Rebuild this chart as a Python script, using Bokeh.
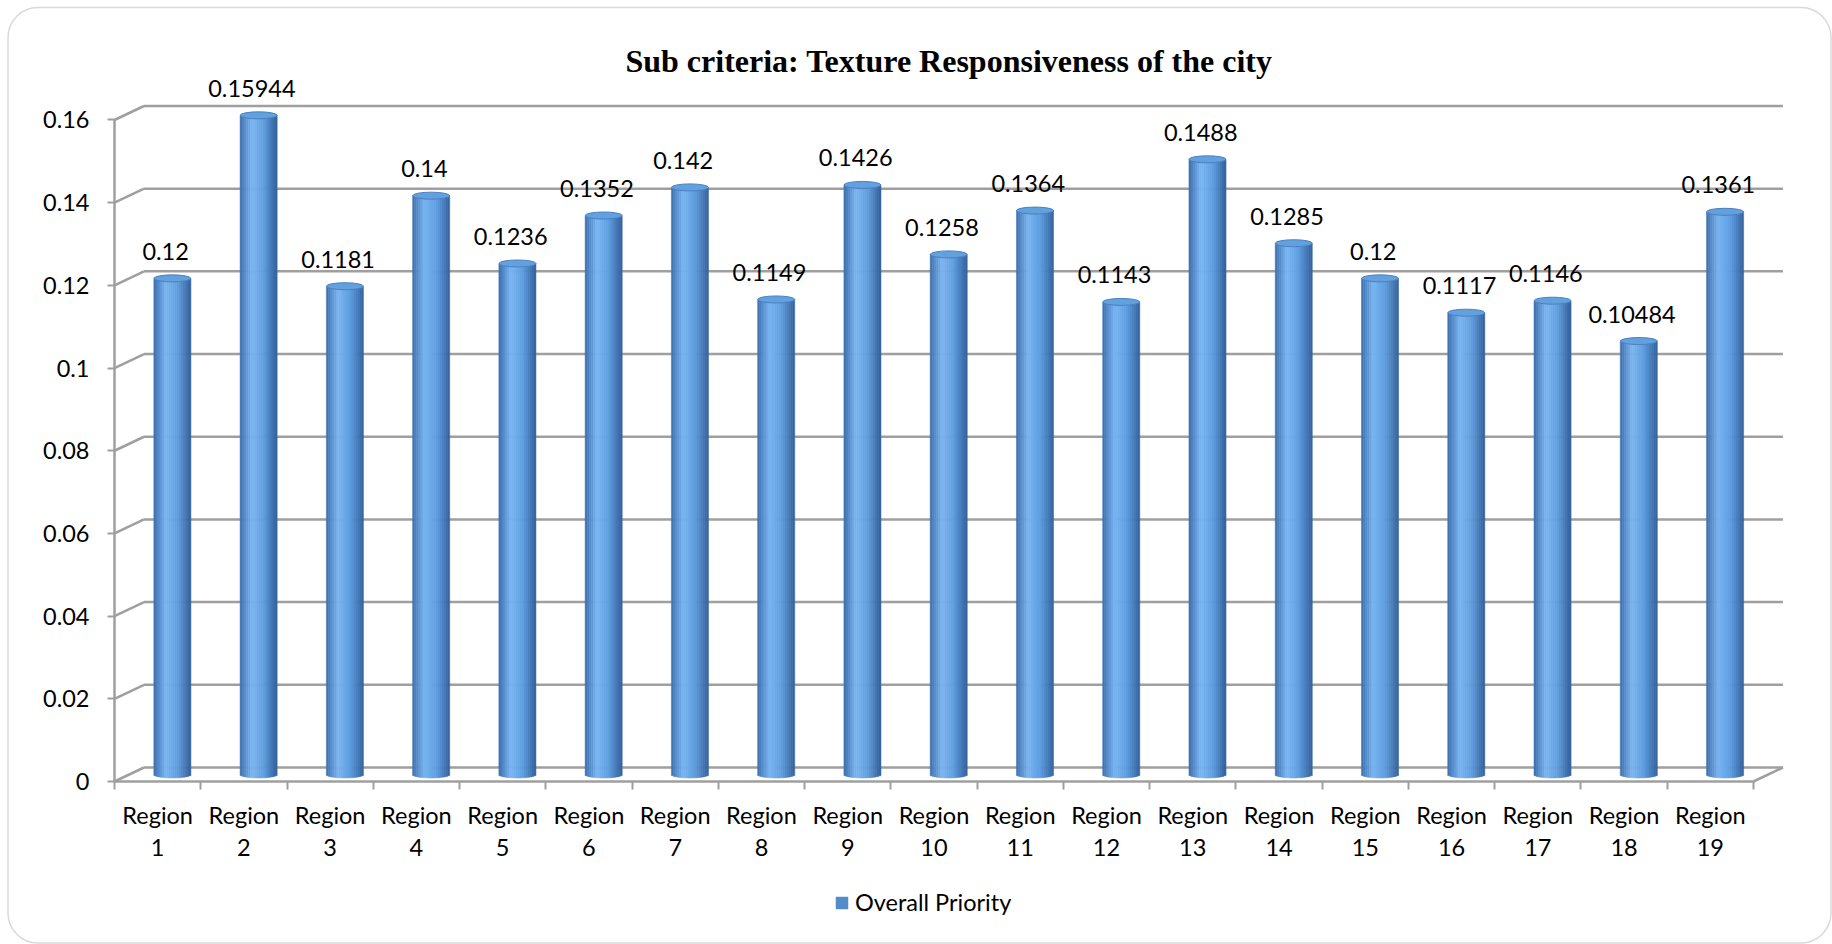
import math

from bokeh.core.properties import value
from bokeh.embed import file_html
from bokeh.models import (BoxAnnotation, FixedTicker, Label, Legend, LegendItem,
                          LinearAxis, Range1d)
from bokeh.plotting import figure
from bokeh.resources import INLINE

# ---- data -------------------------------------------------------------
categories = ["Region 1", "Region 2", "Region 3", "Region 4", "Region 5",
              "Region 6", "Region 7", "Region 8", "Region 9", "Region 10",
              "Region 11", "Region 12", "Region 13", "Region 14", "Region 15",
              "Region 16", "Region 17", "Region 18", "Region 19"]
overall_priority = [0.12, 0.15944, 0.1181, 0.14, 0.1236, 0.1352, 0.142, 0.1149,
                    0.1426, 0.1258, 0.1364, 0.1143, 0.1488, 0.1285, 0.12, 0.1117,
                    0.1146, 0.10484, 0.1361]
y_ticks = [0, 0.02, 0.04, 0.06, 0.08, 0.1, 0.12, 0.14, 0.16]
y_tick_labels = ["0", "0.02", "0.04", "0.06", "0.08", "0.1", "0.12", "0.14", "0.16"]
series_name = "Overall Priority"
title_text = "Sub criteria: Texture Responsiveness of the city"

# ---- layout (pixels) --------------------------------------------------
W, H = 1832, 944
X0_PX, Y0_PX = 114, 781      # where category 0 / value 0 sit on the canvas
PX_X = 86.26                 # pixels per category
PX_Y = 4134.4                # pixels per unit of value

# oblique depth of the 3-D box and cylinder sizes (data units)
DX = 29.5 / PX_X
DY = 14.0 / PX_Y
BW = 37.0 / PX_X
EH = 7.0 / PX_Y

GRID = "#9f9f9f"
FONT = "Lato"
FS = "23.5px"

n = len(categories)

p = figure(width=W, height=H,
           x_range=Range1d(-X0_PX / PX_X, (W - X0_PX) / PX_X),
           y_range=Range1d(-(H - Y0_PX) / PX_Y, Y0_PX / PX_Y),
           output_backend="svg", toolbar_location=None,
           x_axis_type=None, y_axis_type=None,
           min_border=0)
p.grid.visible = False
p.outline_line_color = None
p.background_fill_color = "white"
p.border_fill_color = "white"

# ---- axes (pinned to the front edges of the box) ------------------------
yaxis = LinearAxis(ticker=FixedTicker(ticks=y_ticks), bounds=(0, 0.16),
                   fixed_location=0,
                   major_label_overrides={t: s for t, s in zip(y_ticks, y_tick_labels)})
yaxis.axis_line_color = GRID
yaxis.axis_line_width = 2.5
yaxis.major_tick_line_color = GRID
yaxis.major_tick_line_width = 2
yaxis.major_tick_out = 7
yaxis.major_tick_in = 0
yaxis.minor_tick_line_color = None
yaxis.major_label_standoff = 18
yaxis.major_label_text_font = FONT
yaxis.major_label_text_font_size = FS
yaxis.major_label_text_color = "black"
p.add_layout(yaxis, "left")

centers = [i + 0.5 for i in range(n)]
xaxis = LinearAxis(ticker=FixedTicker(ticks=centers, minor_ticks=list(range(n + 1))),
                   bounds=(0, n), fixed_location=0,
                   major_label_overrides={c: name.replace(" ", "\n")
                                          for c, name in zip(centers, categories)})
xaxis.axis_line_color = GRID
xaxis.axis_line_width = 2.5
xaxis.major_tick_line_color = None
xaxis.major_tick_out = 0
xaxis.major_tick_in = 0
xaxis.minor_tick_line_color = GRID
xaxis.minor_tick_line_width = 2
xaxis.minor_tick_out = 8
xaxis.minor_tick_in = 0
xaxis.major_label_standoff = 11
xaxis.major_label_text_font = FONT
xaxis.major_label_text_font_size = FS
xaxis.major_label_text_color = "black"
xaxis.major_label_text_line_height = 1.15
p.add_layout(xaxis, "below")

# ---- 3-D box: back wall gridlines, side slants, floor ------------------
p.segment(x0=[DX] * len(y_ticks), y0=[t + DY for t in y_ticks],
          x1=[n + DX] * len(y_ticks), y1=[t + DY for t in y_ticks],
          line_color=GRID, line_width=2.5)
p.segment(x0=[0] * len(y_ticks), y0=y_ticks,
          x1=[DX] * len(y_ticks), y1=[t + DY for t in y_ticks],
          line_color=GRID, line_width=2.5)
p.segment(x0=[n], y0=[0], x1=[n + DX], y1=[DY], line_color=GRID, line_width=2.5)

# ---- cylinders: shaded vertical strips + elliptical cap ---------------
stops = [(-1.0, (60, 110, 172)), (-0.35, (122, 182, 242)),
         (0.3, (94, 157, 222)), (1.0, (52, 97, 156))]


def shade(u):
    for (u0, c0), (u1, c1) in zip(stops[:-1], stops[1:]):
        if u0 <= u <= u1:
            f = (u - u0) / (u1 - u0)
            return "#%02x%02x%02x" % tuple(round(a + (b - a) * f) for a, b in zip(c0, c1))
    return "#%02x%02x%02x" % stops[-1][1]


N = 18
bar_cx = [i + 0.5 + DX / 2 for i in range(n)]
bar_tops = [v + DY / 2 for v in overall_priority]
strip_renderers = []
for j in range(N):
    u = -1 + (2 * j + 1) / N
    col = shade(u)
    r = p.vbar(x=[c + u * BW / 2 for c in bar_cx], width=BW / N * 1.05,
               top=bar_tops,
               bottom=[DY / 2 - EH / 2 * math.sqrt(max(0.0, 1 - u * u))] * n,
               fill_color=col, line_color=col, line_width=0.5)
    strip_renderers.append((u, r))

p.ellipse(x=bar_cx, y=bar_tops, width=BW, height=EH,
          fill_color="#62a0de", line_color="#4a80c2", line_width=1)

# ---- value labels ----------------------------------------------------
p.text(x=[i + 0.5 + 8 / PX_X for i in range(n)],
       y=[v + DY / 2 + 27 / PX_Y for v in overall_priority],
       text=[f"{v:g}" for v in overall_priority],
       text_align="center", text_baseline="alphabetic",
       text_font=value(FONT), text_font_size=FS, text_color="black")

# ---- title ------------------------------------------------------------
p.add_layout(Label(x=(948.5 - X0_PX) / PX_X, y=(Y0_PX - 60) / PX_Y, text=title_text,
                   text_font="Liberation Serif", text_font_style="bold",
                   text_font_size="32px", text_align="center",
                   text_baseline="alphabetic", text_color="black"))

# ---- legend -----------------------------------------------------------
legend_strip = min(strip_renderers, key=lambda t: abs(t[0] - 0.45))[1]
legend = Legend(items=[LegendItem(label=series_name, renderers=[legend_strip])],
                location=(834, 28), orientation="horizontal",
                glyph_width=15, glyph_height=15, label_height=15,
                label_standoff=6, padding=0, margin=0, spacing=0,
                border_line_color=None, background_fill_alpha=0,
                label_text_font=FONT, label_text_font_size=FS,
                label_text_color="black")
p.add_layout(legend)

# ---- rounded outer border -------------------------------------------
p.add_layout(BoxAnnotation(left=7.5, right=1830.5, top=7, bottom=942.5,
                           left_units="canvas", right_units="canvas",
                           top_units="canvas", bottom_units="canvas",
                           fill_color=None, line_color="#808080", line_width=1.5,
                           border_radius=30))

open("out.html", "w").write(file_html(p, INLINE))
